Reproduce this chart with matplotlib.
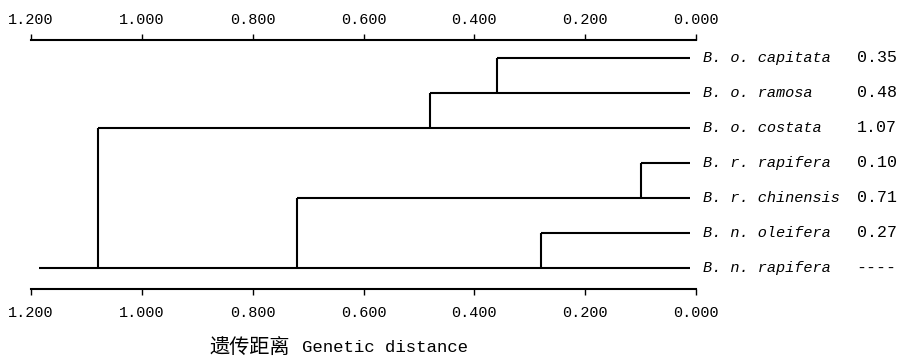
"""
plot.py — Genetic-distance dendrogram of Brassica taxa (UPGMA style).
"""
import matplotlib

matplotlib.use("Agg")
import matplotlib.pyplot as plt
from matplotlib.ticker import FormatStrFormatter
from matplotlib.transforms import ScaledTranslation

# leaves, top to bottom
species = [
    "B. o. capitata",
    "B. o. ramosa",
    "B. o. costata",
    "B. r. rapifera",
    "B. r. chinensis",
    "B. n. oleifera",
    "B. n. rapifera",
]
right_values = ["0.35", "0.48", "1.07", "0.10", "0.71", "0.27", "----"]

# distance where each leaf's horizontal branch starts
leaf_start = [0.36, 0.48, 1.08, 0.10, 0.72, 0.28, 1.185]
# vertical connectors: (distance, upper row, lower row)
joins = [
    (0.36, 0, 1),
    (0.48, 1, 2),
    (1.08, 2, 6),
    (0.10, 3, 4),
    (0.72, 4, 6),
    (0.28, 5, 6),
]
ticks = [1.2, 1.0, 0.8, 0.6, 0.4, 0.2, 0.0]

MONO = "Liberation Mono"
LW = 1.5
TIP = 0.01  # branches stop just short of zero

fig = plt.figure(figsize=(9, 3.61), dpi=100)
ax = fig.add_axes([31 / 900, 72 / 361, 665 / 900, 249 / 361])

for row, start in enumerate(leaf_start):
    ax.plot([start, TIP], [row, row], color="black", lw=LW, solid_capstyle="butt")
for dist, r0, r1 in joins:
    ax.plot([dist, dist], [r0, r1], color="black", lw=LW, solid_capstyle="butt")

for row, (name, val) in enumerate(zip(species, right_values)):
    ax.text(-0.012, row, name, family=MONO, style="italic", fontsize=11,
            va="center", ha="left", clip_on=False)
    ax.text(-0.29, row, val, family=MONO, fontsize=12,
            va="center", ha="left", clip_on=False)

ax.set_xlim(1.2, 0.0)
ax.set_ylim(6.6, -0.51)
ax.set_xticks(ticks)
ax.xaxis.set_major_formatter(FormatStrFormatter("%.3f"))
ax.set_yticks([])
for side in ("left", "right"):
    ax.spines[side].set_visible(False)
for side in ("top", "bottom"):
    ax.spines[side].set_linewidth(LW)
ax.tick_params(axis="x", top=True, labeltop=True, bottom=True, labelbottom=True,
               direction="out", length=4.5, width=1, pad=8, labelsize=11)

# mono face on both rows; top labels sit a little closer to their ticks
nudge = ScaledTranslation(0, -3 / 72, fig.dpi_scale_trans)
for t in ax.xaxis.get_major_ticks():
    t.label1.set_family(MONO)
    t.label2.set_family(MONO)
    t.label2.set_transform(t.label2.get_transform() + nudge)

# axis title: Chinese part larger, English part in the mono face
fig.text(210 / 900, 1 - 347 / 361, "遗传距离", family="Noto Sans CJK SC",
         fontsize=14.5, va="center", ha="left")
fig.text(302 / 900, 1 - 347 / 361, "Genetic distance", family=MONO,
         fontsize=12.5, va="center", ha="left")

fig.savefig("out.png", dpi=100)
